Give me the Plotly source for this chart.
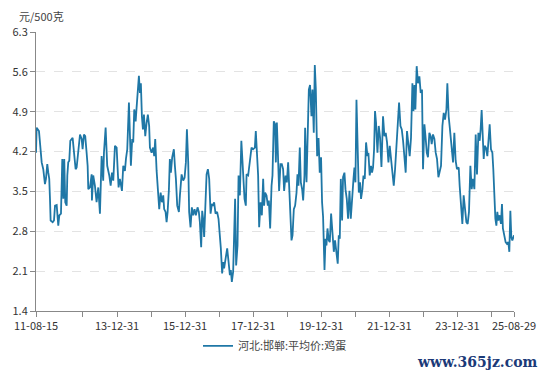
import plotly.graph_objects as go

series_name = "河北:邯郸:平均价:鸡蛋"
unit_label = "元/500克"

dates = [
    "2011-08-15","2011-08-22","2011-09-16","2011-09-27","2011-10-15","2011-11-01","2011-11-19","2011-11-30","2011-12-14","2011-12-25",
    "2012-01-04","2012-01-12","2012-01-19","2012-02-10","2012-02-24","2012-03-06","2012-03-24","2012-04-10","2012-04-21","2012-05-09",
    "2012-05-23","2012-06-03","2012-06-13","2012-06-24","2012-07-09","2012-07-16","2012-07-26","2012-08-06","2012-08-17","2012-09-11",
    "2012-09-25","2012-10-13","2012-10-24","2012-11-10","2012-11-29","2012-12-17","2012-12-27","2013-01-10","2013-01-24","2013-02-08",
    "2013-02-19","2013-02-26","2013-03-16","2013-04-03","2013-04-06","2013-04-20","2013-05-08","2013-05-26","2013-06-13","2013-07-01",
    "2013-07-19","2013-08-05","2013-08-13","2013-08-31","2013-09-17","2013-10-09","2013-10-24","2013-11-07","2013-11-21","2013-12-09",
    "2013-12-27","2014-01-07","2014-01-17","2014-01-31","2014-02-22","2014-03-08","2014-03-26","2014-04-06","2014-04-20","2014-05-08",
    "2014-05-19","2014-05-29","2014-06-12","2014-06-23","2014-07-04","2014-07-19","2014-07-29","2014-08-09","2014-08-23","2014-09-03",
    "2014-09-13","2014-09-24","2014-10-05","2014-10-16","2014-10-30","2014-11-14","2014-11-27","2014-12-11","2014-12-19","2015-01-06",
    "2015-01-23","2015-02-03","2015-02-14","2015-03-01","2015-03-18","2015-03-29","2015-04-13","2015-04-27","2015-05-11","2015-05-21",
    "2015-06-05","2015-06-16","2015-06-27","2015-07-11","2015-07-21","2015-08-01","2015-08-15","2015-09-02","2015-09-13","2015-09-24",
    "2015-10-08","2015-10-26","2015-11-06","2015-11-24","2015-12-11","2015-12-26","2016-01-09","2016-01-20","2016-02-03","2016-02-13",
    "2016-02-28","2016-03-13","2016-03-27","2016-04-11","2016-04-25","2016-05-13","2016-05-27","2016-06-07","2016-06-21","2016-07-02",
    "2016-07-12","2016-07-23","2016-08-03","2016-08-18","2016-09-01","2016-09-15","2016-09-30","2016-10-14","2016-10-28","2016-11-07",
    "2016-11-22","2016-12-09","2016-12-24","2017-01-07","2017-01-18","2017-02-01","2017-02-12","2017-02-22","2017-03-09","2017-03-27",
    "2017-04-11","2017-04-25","2017-05-05","2017-05-16","2017-05-30","2017-06-10","2017-06-20","2017-07-01","2017-07-16","2017-07-27",
    "2017-08-10","2017-08-26","2017-09-14","2017-09-29","2017-10-13","2017-10-21","2017-11-07","2017-11-25","2017-12-13","2017-12-30",
    "2018-01-18","2018-01-28","2018-02-11","2018-02-22","2018-03-05","2018-03-20","2018-04-03","2018-04-17","2018-04-27","2018-05-08",
    "2018-05-23","2018-06-06","2018-06-17","2018-07-01","2018-07-16","2018-07-26","2018-08-09","2018-08-23","2018-08-31","2018-09-11",
    "2018-09-24","2018-10-05","2018-10-20","2018-11-03","2018-11-17","2018-11-28","2018-12-13","2018-12-27","2019-01-10","2019-01-20",
    "2019-02-04","2019-02-15","2019-02-26","2019-03-12","2019-03-26","2019-04-10","2019-04-20","2019-05-01","2019-05-15","2019-05-26",
    "2019-06-09","2019-06-20","2019-07-04","2019-07-11","2019-07-26","2019-08-09","2019-08-20","2019-09-02","2019-09-17","2019-09-28",
    "2019-10-12","2019-10-23","2019-11-03","2019-11-17","2019-12-02","2019-12-15","2019-12-29","2020-01-09","2020-01-20","2020-02-04",
    "2020-02-15","2020-02-25","2020-03-07","2020-03-21","2020-04-01","2020-04-15","2020-04-30","2020-05-14","2020-05-27","2020-06-11",
    "2020-06-25","2020-07-06","2020-07-17","2020-07-28","2020-08-11","2020-08-21","2020-09-05","2020-09-16","2020-09-30","2020-10-14",
    "2020-10-29","2020-11-12","2020-11-26","2020-12-11","2020-12-21","2021-01-01","2021-01-12","2021-01-26","2021-02-06","2021-02-19",
    "2021-03-02","2021-03-17","2021-03-28","2021-04-11","2021-04-25","2021-05-10","2021-05-20","2021-06-03","2021-06-17","2021-06-28",
    "2021-07-09","2021-07-20","2021-07-30","2021-08-10","2021-08-25","2021-09-08","2021-09-22","2021-10-07","2021-10-24","2021-11-08",
    "2021-11-22","2021-12-06","2021-12-21","2022-01-04","2022-01-18","2022-02-02","2022-02-16","2022-03-02","2022-03-17","2022-03-31",
    "2022-04-14","2022-04-29","2022-05-13","2022-05-27","2022-06-11","2022-06-24","2022-07-08","2022-07-23","2022-08-06","2022-08-20",
    "2022-09-04","2022-09-15","2022-09-26","2022-10-06","2022-10-20","2022-11-03","2022-11-18","2022-12-02","2022-12-16","2022-12-27",
    "2023-01-11","2023-01-25","2023-02-05","2023-02-18","2023-03-05","2023-03-19","2023-03-30","2023-04-13","2023-04-28","2023-05-12",
    "2023-05-26","2023-06-10","2023-06-24","2023-07-08","2023-07-23","2023-08-06","2023-08-20","2023-09-04","2023-09-14","2023-09-28",
    "2023-10-12","2023-10-28","2023-11-14","2023-11-28","2023-12-12","2023-12-26","2024-01-14","2024-01-24","2024-02-07","2024-02-22",
    "2024-03-07","2024-03-21","2024-04-05","2024-04-19","2024-05-03","2024-05-18","2024-06-01","2024-06-15","2024-06-30","2024-07-14",
    "2024-07-28","2024-08-12","2024-08-26","2024-09-05","2024-09-16","2024-09-27","2024-10-08","2024-10-18","2024-11-01","2024-11-16",
    "2024-11-30","2024-12-11","2024-12-25","2025-01-09","2025-01-19","2025-01-30","2025-02-10","2025-02-21","2025-03-03","2025-03-14",
    "2025-03-28","2025-04-11","2025-04-22","2025-05-02","2025-05-17","2025-05-31","2025-06-14","2025-06-29","2025-07-10","2025-07-21",
    "2025-07-31","2025-08-11","2025-08-29",
]

prices = [
    4.18,4.62,4.56,4.36,4.01,3.89,3.63,3.72,3.98,3.83,
    3.72,3.37,2.99,2.96,2.99,3.25,3.26,2.90,3.08,3.11,
    4.07,3.37,4.07,3.31,3.25,3.78,4.01,4.04,4.39,4.44,
    4.24,3.89,3.92,4.18,4.50,4.42,4.24,4.50,4.47,4.18,
    3.95,3.54,3.57,3.80,3.34,3.78,3.60,3.31,3.57,3.11,
    4.12,3.69,4.18,4.62,3.95,3.78,3.60,3.83,3.69,4.30,
    4.27,3.89,3.57,3.72,3.51,3.95,3.86,4.07,4.24,5.06,
    4.18,3.95,4.42,4.36,4.94,4.73,4.97,5.17,5.53,5.23,
    5.40,4.82,4.59,4.85,4.47,4.71,4.85,4.65,4.27,4.18,
    4.27,4.12,4.42,3.86,3.54,3.19,3.48,3.31,3.43,3.19,
    3.14,2.96,3.14,3.54,4.07,3.83,4.10,4.24,3.95,3.72,
    3.25,3.14,3.43,3.80,3.69,3.74,4.01,4.59,4.01,3.14,
    2.87,3.22,3.08,3.19,3.08,3.22,3.14,2.96,2.52,3.16,
    3.02,2.70,3.16,3.80,3.89,3.72,3.11,3.28,3.25,3.31,
    3.11,3.14,3.02,2.79,2.50,2.06,2.26,2.15,2.32,2.50,
    2.26,2.03,2.12,1.91,2.09,2.58,3.37,2.20,2.55,3.78,
    3.43,4.39,3.78,3.37,3.25,3.80,3.78,4.07,4.27,4.24,
    4.27,4.56,4.07,3.78,2.87,3.31,3.08,3.72,3.25,3.48,
    3.43,3.25,3.34,2.85,3.60,3.78,4.73,4.68,4.01,4.71,
    4.07,3.51,3.98,3.98,3.89,3.51,3.78,3.66,4.01,3.54,
    3.14,2.64,2.73,3.19,3.25,3.48,3.80,3.60,4.27,3.66,
    3.54,3.34,3.78,4.62,3.66,4.36,5.29,5.37,4.82,5.29,
    4.53,5.72,5.29,4.12,4.44,3.83,4.10,3.31,3.05,2.12,
    2.67,2.55,2.85,2.64,2.61,3.11,2.73,2.44,2.64,2.38,
    2.23,2.73,2.67,3.72,2.99,3.75,3.83,3.54,3.37,3.02,
    3.51,3.02,3.43,3.72,3.92,3.66,5.11,4.07,3.48,3.66,
    3.37,3.54,3.78,3.72,4.36,4.12,4.18,3.78,3.95,3.83,
    3.92,4.24,4.91,4.71,4.18,4.65,4.45,3.93,4.82,4.47,
    4.53,4.36,4.01,4.30,4.10,3.78,3.60,3.89,4.24,4.59,
    5.06,4.65,4.59,4.39,4.01,3.83,4.56,4.36,4.12,4.44,
    5.40,4.91,5.37,4.94,5.70,5.40,5.52,5.23,5.29,3.89,
    4.68,4.42,4.18,4.10,4.53,4.47,4.33,4.50,4.42,4.18,
    4.07,3.75,3.89,3.95,4.65,4.88,4.76,4.94,5.40,4.82,
    4.59,4.24,4.01,4.53,4.04,3.89,3.92,3.60,3.31,2.93,
    3.43,3.14,2.96,2.93,3.14,3.95,3.54,3.72,3.54,4.50,
    3.80,4.53,4.39,4.59,4.93,4.50,4.07,4.30,4.27,4.12,
    4.42,4.68,4.24,4.18,3.89,3.43,3.02,2.90,3.14,2.99,
    3.08,2.93,3.28,2.85,2.73,2.61,2.58,2.61,2.44,3.16,
    2.70,2.64,2.73,
]

x_tick_vals = ["2011-08-15", "2012-12-31", "2013-12-31", "2014-12-31", "2015-12-31",
               "2016-12-31", "2017-12-31", "2018-12-31", "2019-12-31", "2020-12-31",
               "2021-12-31", "2022-12-31", "2023-12-31", "2024-12-31", "2025-08-29"]
x_tick_text = ["11-08-15", "", "13-12-31", "", "15-12-31", "", "17-12-31", "",
               "19-12-31", "", "21-12-31", "", "23-12-31", "", "25-08-29"]
y_tick_vals = [1.4, 2.1, 2.8, 3.5, 4.2, 4.9, 5.6, 6.3]

font_family = "Noto Sans CJK SC, Noto Sans, sans-serif"

fig = go.Figure()
fig.add_trace(go.Scatter(
    x=dates, y=prices, mode="lines", name=series_name,
    line=dict(color="#1f77a6", width=1.8),
))

fig.update_layout(
    width=534, height=364,
    margin=dict(l=28, r=28, t=24, b=59),
    paper_bgcolor="white", plot_bgcolor="white",
    font=dict(family=font_family, size=11, color="#333333"),
    showlegend=True,
    legend=dict(orientation="h", x=0.5, xanchor="center", y=-0.125, yanchor="middle",
                font=dict(size=11, color="#444444"), bgcolor="rgba(0,0,0,0)"),
    annotations=[
        dict(text=unit_label, xref="paper", yref="paper", x=-0.04, y=1.057,
             xanchor="left", yanchor="middle", showarrow=False,
             font=dict(size=11, color="#444444", family=font_family)),
        dict(text="<b>www.365jz.com</b>", xref="paper", yref="paper", x=1.055, y=-0.147,
             xanchor="right", yanchor="top", showarrow=False,
             font=dict(size=14, color="#1b3a78", family="DejaVu Serif, serif")),
    ],
)

fig.update_xaxes(
    type="date", range=["2011-08-15", "2025-08-29"], automargin=False,
    tickmode="array", tickvals=x_tick_vals, ticktext=x_tick_text,
    ticks="outside", ticklen=5, tickcolor="#888888",
    showline=True, linecolor="#888888", linewidth=1,
    showgrid=False, zeroline=False,
    tickfont=dict(size=11, color="#333333"),
)
fig.update_yaxes(
    range=[1.4, 6.3], automargin=False, tickmode="array", tickvals=y_tick_vals,
    ticktext=[f"{v:.1f}" for v in y_tick_vals],
    ticks="outside", ticklen=5, tickcolor="#888888",
    showline=True, linecolor="#888888", linewidth=1,
    showgrid=True, gridcolor="#e3e3e3", griddash="dash", gridwidth=1,
    zeroline=False, tickfont=dict(size=11, color="#333333"),
)

fig.write_html("out.html")
